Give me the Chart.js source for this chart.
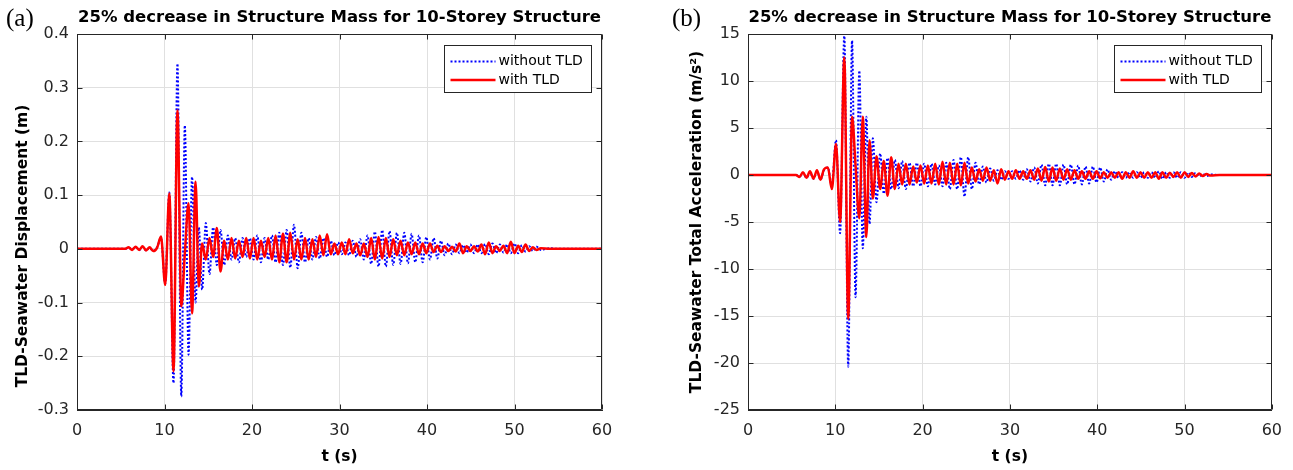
<!DOCTYPE html>
<html>
<head>
<meta charset="utf-8">
<script src="https://cdn.jsdelivr.net/npm/chart.js@4.4.1/dist/chart.umd.min.js"></script>
<style>
html, body { margin: 0; padding: 0; background: #fff; }
#wrap { position: relative; width: 1293px; height: 470px; }
canvas { position: absolute; top: 0; }
</style>
</head>
<body>
<div id="wrap">
  <canvas id="chartA" width="646" height="470" style="left:0px"></canvas>
  <canvas id="chartB" width="647" height="470" style="left:646px"></canvas>
</div>
<script>
// time (s) of the sampled points, shared by both panels
var tSec = [
  0, 5.5, 5.9, 6.3, 6.7, 7.1, 7.5, 7.9, 8.3, 8.7,
  9.15, 9.6, 10.08, 10.55, 11.03, 11.48, 11.92, 12.32, 12.75, 13.15, 13.55, 13.92,
  14.3, 14.72, 15.14, 15.56, 15.98, 16.4, 16.82, 17.24, 17.66, 18.08, 18.5, 18.92, 19.34, 19.76, 20.18,
  20.6, 21.02, 21.44, 21.86, 22.28, 22.7, 23.12, 23.54, 23.96, 24.38, 24.8, 25.22, 25.64, 26.06, 26.48,
  26.9, 27.32, 27.74, 28.16, 28.58, 29.0, 29.42, 29.84, 30.26, 30.68, 31.1, 31.52, 31.94, 32.36, 32.78,
  33.2, 33.62, 34.04, 34.46, 34.88, 35.3, 35.72, 36.14, 36.56, 36.98, 37.4, 37.82, 38.24, 38.66, 39.08,
  39.5, 39.92, 40.34, 40.76, 41.18, 41.6, 42.02, 42.44, 42.86, 43.28, 43.7, 44.12, 44.54, 44.96, 45.38,
  45.8, 46.22, 46.64, 47.06, 47.48, 47.9, 48.32, 48.74, 49.16, 49.58, 50.0, 50.42, 50.84, 51.26, 51.68,
  52.1, 52.52, 53.0, 54.0, 55.0, 56.5, 58.0, 60.0
];

// (a) TLD-seawater displacement (m)
var dispWithout = [
  0, 0, 0.002, -0.001, 0.003, -0.002, 0.004, -0.003, 0.002, -0.004,
  0.003, 0.02, -0.065, 0.105, -0.25, 0.345, -0.275, 0.23, -0.197, 0.134, -0.1, 0.04,
  -0.076, 0.048, -0.047, 0.04, -0.03, 0.035, -0.03, 0.025, -0.02, 0.02, -0.025, 0.02, -0.015, 0.02, -0.02,
  0.025, -0.025, 0.02, -0.02, 0.025, -0.025, 0.03, -0.03, 0.035, -0.035, 0.045, -0.036, 0.03, -0.025, 0.02,
  -0.02, 0.022, -0.018, 0.02, -0.015, 0.015, -0.012, 0.012, -0.01, 0.012, -0.012, 0.015, -0.015, 0.018, -0.02,
  0.025, -0.028, 0.032, -0.033, 0.035, -0.033, 0.033, -0.03, 0.03, -0.028, 0.03, -0.027, 0.028, -0.025, 0.025,
  -0.025, 0.022, -0.02, 0.02, -0.018, 0.015, -0.012, 0.01, -0.01, 0.008, -0.008, 0.007, -0.007, 0.008, -0.008,
  0.008, -0.008, 0.009, -0.01, 0.01, -0.008, 0.008, -0.007, 0.008, -0.008, 0.01, -0.008, 0.007, -0.005, 0.005,
  -0.004, 0.004, -0.002, 0.001, 0, 0, 0, 0
];
var dispWith = [
  0, 0, 0.003, -0.002, 0.004, -0.002, 0.005, -0.003, 0.003, -0.004,
  0.002, 0.023, -0.067, 0.103, -0.228, 0.258, -0.107, -0.01, 0.085, -0.12, 0.125, -0.07,
  0.01, -0.02, 0.02, -0.015, 0.039, -0.042, 0.015, -0.02, 0.02, -0.018, 0.015, -0.015, 0.02, -0.018, 0.02,
  -0.02, 0.015, -0.015, 0.02, -0.02, 0.025, -0.025, 0.028, -0.025, 0.03, -0.02, 0.018, -0.02, 0.02, -0.02,
  0.018, -0.015, 0.025, -0.012, 0.027, -0.01, 0.01, -0.01, 0.012, -0.01, 0.018, -0.008, 0.01, -0.012, 0.01,
  -0.015, 0.02, -0.02, 0.022, -0.018, 0.02, -0.015, 0.018, -0.012, 0.015, -0.012, 0.012, -0.01, 0.012, -0.01,
  0.01, -0.008, 0.01, -0.006, 0.006, -0.006, 0.005, -0.004, 0.004, -0.005, 0.01, -0.008, 0.005, -0.004, 0.005,
  -0.005, 0.008, -0.01, 0.012, -0.008, 0.005, -0.004, 0.006, -0.008, 0.013, -0.008, 0.006, -0.006, 0.008, -0.004,
  0.003, -0.002, 0.001, 0, 0, 0, 0, 0
];

// (b) TLD-seawater total acceleration (m/s2)
var accWithout = [
  0, 0, -0.2, 0.2, -0.3, 0.3, -0.4, 0.4, -0.5, 0.5,
  0.8, -1.2, 3.7, -6.2, 14.8, -20.4, 14.3, -13, 11.1, -7.8, 6.2, -5.2,
  3.9, -2.9, 2.3, -2.0, 1.8, -1.5, 1.6, -1.4, 1.5, -1.5, 1.3, -1.2, 1.3, -1.2, 1.2,
  -1.2, 1.2, -1.0, 1.0, -1.2, 1.3, -1.5, 1.6, -1.5, 1.9, -2.3, 1.9, -1.5, 1.3, -1.0,
  0.9, -0.8, 0.7, -0.6, 0.5, -0.5, 0.4, -0.4, 0.4, -0.4, 0.5, -0.5, 0.6, -0.7, 0.8,
  -0.9, 1.1, -1.1, 1.2, -1.1, 1.2, -1.1, 1.1, -1.0, 1.1, -1.0, 1.0, -1.0, 0.9, -0.9,
  0.9, -0.8, 0.8, -0.7, 0.6, -0.5, 0.4, -0.3, 0.3, -0.3, 0.3, -0.3, 0.3, -0.3, 0.3,
  -0.3, 0.3, -0.3, 0.4, -0.4, 0.3, -0.3, 0.3, -0.3, 0.3, -0.3, 0.25, -0.2, 0.2, -0.15,
  0.1, -0.1, 0.05, 0, 0, 0, 0, 0
];
var accWith = [
  0, 0, -0.2, 0.3, -0.3, 0.4, -0.4, 0.5, -0.5, 0.6,
  0.8, -1.5, 3.3, -5.0, 12.5, -15.3, 6.2, 1.0, -4.6, 6.2, -6.6, 3.7,
  -2.5, 2.0, -1.5, 1.5, -2.2, 1.9, -1.5, 1.2, -1.0, 1.2, -1.0, 0.9, -0.8, 1.0, -0.9,
  1.0, -0.9, 1.2, -1.0, 1.4, -1.0, 1.3, -1.0, 1.2, -1.1, 1.3, -0.9, 0.8, -0.7, 0.6,
  -0.6, 0.8, -0.6, 0.5, -0.9, 0.6, -0.5, 0.4, -0.4, 0.5, -0.4, 0.4, -0.4, 0.5, -0.5,
  0.7, -0.6, 0.85, -0.7, 0.8, -0.6, 0.7, -0.5, 0.6, -0.5, 0.5, -0.4, 0.4, -0.4, 0.4,
  -0.4, 0.4, -0.35, 0.3, -0.3, 0.3, -0.3, 0.3, -0.4, 0.3, -0.3, 0.4, -0.3, 0.3, -0.3,
  0.3, -0.3, 0.3, -0.4, 0.3, -0.3, 0.25, -0.2, 0.3, -0.3, 0.3, -0.2, 0.2, -0.15, 0.15,
  -0.1, 0.1, -0.05, 0, 0, 0, 0, 0
];

var seriesNames = ['without TLD', 'with TLD'];
var plotTitle = '25% decrease in Structure Mass for 10-Storey Structure';

var FONT = '"DejaVu Sans", "Liberation Sans", Arial, sans-serif';
var AXIS = '#262626';

function pts(arr) {
  return tSec.map(function (t, i) { return { x: t, y: arr[i] }; });
}

// MATLAB-like frame: box, inward ticks, legend, labels
var matlabFrame = {
  id: 'matlabFrame',
  afterDraw: function (chart, args, o) {
    var ctx = chart.ctx, a = chart.chartArea;
    var xs = chart.scales.x, ys = chart.scales.y;
    var L = Math.round(a.left) + 0.5, R = Math.round(a.right) - 0.5;
    var T = Math.round(a.top) + 0.5, B = Math.round(a.bottom) - 0.5;
    ctx.save();
    ctx.strokeStyle = AXIS;
    ctx.lineWidth = 1;
    ctx.beginPath();
    ctx.moveTo(L, T); ctx.lineTo(R, T); ctx.lineTo(R, B); ctx.lineTo(L, B); ctx.closePath();
    xs.ticks.forEach(function (tk) {
      var px = Math.round(xs.getPixelForValue(tk.value)) + 0.5;
      ctx.moveTo(px, B); ctx.lineTo(px, B - 5);
      ctx.moveTo(px, T); ctx.lineTo(px, T + 5);
    });
    ys.ticks.forEach(function (tk) {
      var py = Math.round(ys.getPixelForValue(tk.value)) + 0.5;
      ctx.moveTo(L, py); ctx.lineTo(L + 5, py);
      ctx.moveTo(R, py); ctx.lineTo(R - 5, py);
    });
    ctx.stroke();

    // legend box
    var bw = 147, bh = 47;
    var bx = Math.round(a.right) - 11 - bw + 0.5, by = Math.round(a.top) + 11 + 0.5;
    ctx.fillStyle = '#fff';
    ctx.fillRect(bx, by, bw, bh);
    ctx.strokeStyle = AXIS;
    ctx.strokeRect(bx, by, bw, bh);
    var rows = [by + 16, by + 34.5];
    ctx.lineWidth = 2;
    ctx.strokeStyle = '#0000ff';
    ctx.setLineDash([2, 2]);
    ctx.beginPath(); ctx.moveTo(bx + 6, rows[0]); ctx.lineTo(bx + 51, rows[0]); ctx.stroke();
    ctx.setLineDash([]);
    ctx.lineWidth = 2.5;
    ctx.strokeStyle = '#ff0000';
    ctx.beginPath(); ctx.moveTo(bx + 6, rows[1]); ctx.lineTo(bx + 51, rows[1]); ctx.stroke();
    ctx.fillStyle = '#000';
    ctx.font = '14px ' + FONT;
    ctx.textAlign = 'left';
    ctx.textBaseline = 'middle';
    ctx.fillText(seriesNames[0], bx + 54, rows[0]);
    ctx.fillText(seriesNames[1], bx + 54, rows[1]);

    // title and axis labels
    var cx = (a.left + a.right) / 2;
    ctx.textAlign = 'center';
    ctx.font = 'bold 16.5px ' + FONT;
    ctx.fillText(plotTitle, cx, 18);
    ctx.font = 'bold 15.5px ' + FONT;
    ctx.fillText('t (s)', cx, 457);
    ctx.save();
    ctx.translate(o.ylabelX, o.ylabelY);
    ctx.rotate(-Math.PI / 2);
    ctx.fillText(o.ylabel, 0, 0);
    ctx.restore();

    // panel tag
    ctx.textAlign = 'left';
    ctx.textBaseline = 'alphabetic';
    ctx.font = '25px "Liberation Serif", "DejaVu Serif", serif';
    ctx.fillText(o.tag, o.tagX, 26);
    ctx.restore();
  }
};

function makeChart(id, blue, red, yMin, yMax, yStep, yWidth, padRight, frameOpts) {
  return new Chart(document.getElementById(id).getContext('2d'), {
    type: 'line',
    data: {
      datasets: [
        {
          label: seriesNames[1],
          data: pts(red),
          borderColor: '#ff0000',
          borderWidth: 2.5,
          order: 0
        },
        {
          label: seriesNames[0],
          data: pts(blue),
          borderColor: '#0000ff',
          borderWidth: 2,
          borderDash: [2, 2],
          order: 1
        }
      ]
    },
    options: {
      responsive: false,
      animation: false,
      devicePixelRatio: 1,
      cubicInterpolationMode: 'monotone',
      elements: { point: { radius: 0 }, line: { fill: false } },
      layout: { padding: { top: 34, right: padRight, bottom: 0, left: 0 } },
      plugins: {
        legend: { display: false },
        title: { display: false },
        tooltip: { enabled: false },
        matlabFrame: frameOpts
      },
      scales: {
        x: {
          type: 'linear',
          min: 0, max: 60,
          afterFit: function (s) { s.height = 60; },
          ticks: { stepSize: 10, autoSkip: false, maxRotation: 0, padding: 11, color: AXIS, font: { family: FONT, size: 16 } },
          grid: { color: '#e0e0e0', drawTicks: false },
          border: { display: true, color: AXIS, width: 1 }
        },
        y: {
          type: 'linear',
          min: yMin, max: yMax,
          afterFit: function (s) { s.width = yWidth; },
          ticks: {
            stepSize: yStep, autoSkip: false, padding: 8, color: AXIS, font: { family: FONT, size: 16 },
            callback: function (v) { return String(Math.round(v * 10) / 10); }
          },
          grid: { color: '#e0e0e0', drawTicks: false },
          border: { display: true, color: AXIS, width: 1 }
        }
      }
    },
    plugins: [matlabFrame]
  });
}

makeChart('chartA', dispWithout, dispWith, -0.3, 0.4, 0.1, 77, 44,
  { tag: '(a)', tagX: 6, ylabel: 'TLD-Seawater Displacement (m)', ylabelX: 23, ylabelY: 246 });
makeChart('chartB', accWithout, accWith, -25, 15, 5, 102, 21,
  { tag: '(b)', tagX: 26, ylabel: 'TLD-Seawater Total Acceleration (m/s\u00B2)', ylabelX: 51, ylabelY: 222 });
</script>
</body>
</html>
